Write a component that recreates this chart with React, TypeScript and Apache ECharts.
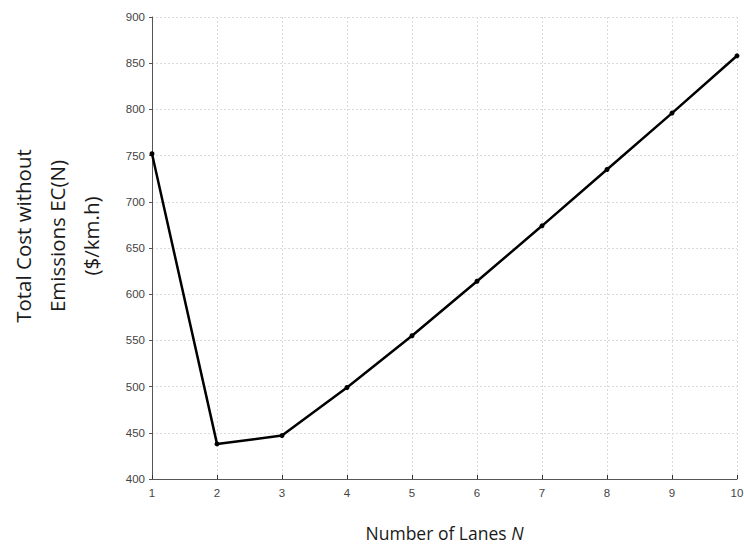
import React, { useEffect, useRef } from "react";
import * as echarts from "echarts";

const lanes = [1, 2, 3, 4, 5, 6, 7, 8, 9, 10];
const totalCost = [752, 438, 447, 499, 555, 614, 674, 735, 796, 858];
const yTicks = [400, 450, 500, 550, 600, 650, 700, 750, 800, 850, 900];
const yTitleLines = ["Total Cost without", "Emissions EC(N)", "($/km.h)"];

export default function App() {
  const ref = useRef<HTMLDivElement>(null);
  useEffect(() => {
    const chart = echarts.init(ref.current!, null, { renderer: "svg" });
    const lineX = [23, 57, 91];
    chart.setOption({
      animation: false,
      backgroundColor: "#ffffff",
      grid: { left: 152, right: 7, top: 17, bottom: 66, containLabel: false, outerBoundsMode: "none" },
      graphic: yTitleLines.map((t, i) => ({
        type: "text",
        x: lineX[i],
        y: 236,
        rotation: Math.PI / 2,
        style: {
          text: t,
          fontFamily: "Open Sans",
          fontSize: 20.5,
          fill: "#1a1a1a",
          align: "center",
          verticalAlign: "middle",
        },
      })),
      xAxis: {
        type: "value",
        min: 1,
        max: 10,
        interval: 1,
        name: "{a|Number of Lanes }{b|N}",
        nameLocation: "middle",
        nameGap: 45,
        nameTextStyle: {
          rich: {
            a: { fontFamily: "Open Sans", fontSize: 17.5, color: "#1a1a1a" },
            b: { fontFamily: "Open Sans", fontSize: 17.5, color: "#1a1a1a", fontStyle: "italic" },
          },
        },
        axisLine: { show: true, lineStyle: { color: "#555", width: 1 } },
        axisTick: { show: true, inside: true, length: 4, lineStyle: { color: "#333" } },
        axisLabel: { fontFamily: "Liberation Sans", fontSize: 11.5, color: "#444", margin: 8 },
        splitLine: { show: true, lineStyle: { color: "#dcdcdc", type: [2, 2], width: 1 } },
      },
      yAxis: {
        type: "value",
        min: yTicks[0],
        max: yTicks[yTicks.length - 1],
        interval: 50,
        axisLine: { show: true, lineStyle: { color: "#555", width: 1 } },
        axisTick: { show: true, inside: false, length: 3, lineStyle: { color: "#555" } },
        axisLabel: { fontFamily: "Liberation Sans", fontSize: 11.5, color: "#444", margin: 7 },
        splitLine: { show: true, lineStyle: { color: "#dcdcdc", type: [2, 2], width: 1 } },
      },
      series: [
        {
          type: "line",
          data: lanes.map((n, i) => [n, totalCost[i]]),
          lineStyle: { color: "#000", width: 2.5 },
          itemStyle: { color: "#000" },
          symbol: "circle",
          symbolSize: 5,
          showSymbol: true,
        },
      ],
    });
    return () => chart.dispose();
  }, []);
  return <div ref={ref} style={{ width: 744, height: 545, position: "absolute", left: 0, top: 0 }} />;
}
